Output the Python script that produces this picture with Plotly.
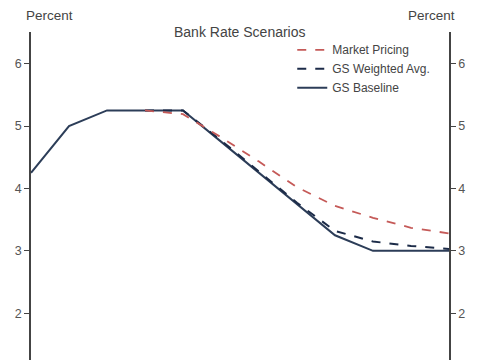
import plotly.graph_objects as go

quarters = list(range(12))
baseline = [4.25, 5.0, 5.25, 5.25, 5.25, 4.75, 4.25, 3.75, 3.25, 3.0, 3.0, 3.0]
weighted_q = quarters[3:]
weighted = [5.25, 5.25, 4.77, 4.27, 3.77, 3.32, 3.15, 3.08, 3.03]
market_q = quarters[3:]
market = [5.25, 5.19, 4.82, 4.43, 4.02, 3.72, 3.53, 3.37, 3.28]

fig = go.Figure()
fig.add_trace(go.Scatter(x=quarters, y=baseline, mode="lines", name="GS Baseline",
                         line=dict(color="#2c3d58", width=2)))
fig.add_trace(go.Scatter(x=weighted_q, y=weighted, mode="lines", name="GS Weighted Avg.",
                         line=dict(color="#1c2b48", width=2, dash="dash")))
fig.add_trace(go.Scatter(x=market_q, y=market, mode="lines", name="Market Pricing",
                         line=dict(color="#c55a58", width=1.8, dash="dash")))
fig.add_trace(go.Scatter(x=[0], y=[4.25], yaxis="y2", mode="lines", showlegend=False,
                         hoverinfo="skip", line=dict(color="rgba(0,0,0,0)")))

yr = [1.252, 6.506]
axis_common = dict(range=yr, tickvals=[1, 2, 3, 4, 5, 6], showgrid=False, zeroline=False,
                   showline=True, linecolor="#444", linewidth=1.5, ticks="outside",
                   ticklen=5, tickcolor="#444", tickwidth=1.2,
                   tickfont=dict(family="Liberation Sans, Arial", size=12.5, color="#555"))

fig.update_layout(
    width=485, height=360,
    margin=dict(l=31, r=36, t=32, b=0),
    paper_bgcolor="white", plot_bgcolor="white",
    xaxis=dict(range=[0, 11], visible=False),
    yaxis=dict(**axis_common, side="left"),
    yaxis2=dict(**axis_common, side="right", overlaying="y", anchor="x"),
    legend=dict(x=0.625, y=0.99, xanchor="left", yanchor="top", traceorder="reversed",
                bgcolor="rgba(255,255,255,0)",
                font=dict(family="Liberation Sans, Arial", size=12, color="#444")),
    showlegend=True,
    annotations=[
        dict(text="Bank Rate Scenarios", xref="paper", yref="paper", x=0.5, y=1.0,
             xanchor="center", yanchor="middle", showarrow=False,
             font=dict(family="Liberation Sans, Arial", size=14, color="#444")),
        dict(text="Percent", xref="paper", yref="paper", x=-0.017, y=1.0, yshift=17,
             xanchor="left", yanchor="middle", showarrow=False,
             font=dict(family="Liberation Sans, Arial", size=13.5, color="#444")),
        dict(text="Percent", xref="paper", yref="paper", x=1.02, y=1.0, yshift=17,
             xanchor="right", yanchor="middle", showarrow=False,
             font=dict(family="Liberation Sans, Arial", size=13.5, color="#444")),
    ],
)

fig.write_html("out.html")
